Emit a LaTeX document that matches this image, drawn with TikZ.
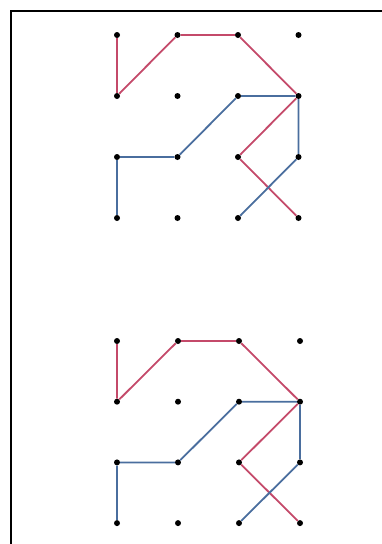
\documentclass[tikz,border=0pt]{standalone}
\begin{document}
\begin{tikzpicture}[x=1pt,y=-1pt,
  dot/.style={circle,fill=black,inner sep=0pt,minimum size=6pt},
  redline/.style={draw=pathred,line width=1.8pt,line join=round},
  blueline/.style={draw=pathblue,line width=1.8pt,line join=round},
  frameline/.style={draw=black,line width=2pt}]
\definecolor{pathred}{HTML}{C44A6A}
\definecolor{pathblue}{HTML}{4A6E9E}
\useasboundingbox (0,0) rectangle (382,544);
\coordinate (fc) at (11,11);
\coordinate (fr) at (382,11);
\coordinate (fb) at (11,544);
\draw[frameline] (fr) -- (fc) -- (fb);
% top grid
\foreach \i in {0,1,2,3}{
  \foreach \j in {0,1,2,3}{
    \node[dot] (t-\i-\j) at ({117+60.5*\i},{35+61*\j}) {};
    \node[dot] (b-\i-\j) at ({117+61*\i},{341+60.7*\j}) {};
  }
}
\foreach \g in {t,b}{
  \draw[redline] (\g-0-0) -- (\g-0-1) -- (\g-1-0) -- (\g-2-0) -- (\g-3-1) -- (\g-2-2) -- (\g-3-3);
  \draw[blueline] (\g-0-3) -- (\g-0-2) -- (\g-1-2) -- (\g-2-1) -- (\g-3-1) -- (\g-3-2) -- (\g-2-3);
}
\end{tikzpicture}
\end{document}
